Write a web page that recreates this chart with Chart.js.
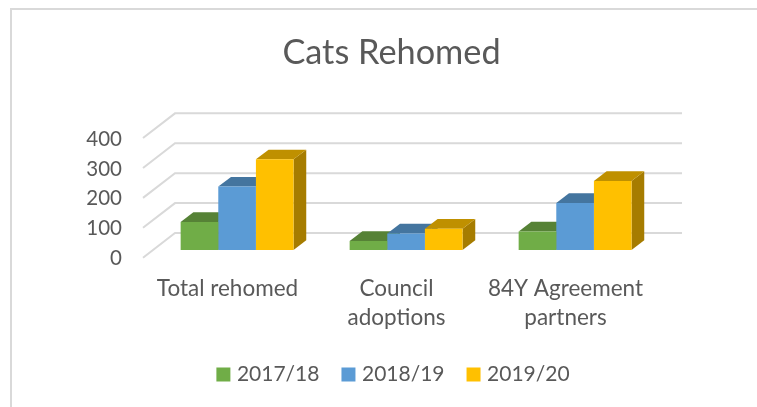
<!DOCTYPE html>
<html><head><meta charset="utf-8">
<style>html,body{margin:0;padding:0;background:#fff}canvas{display:block}</style>
<script src="https://cdn.jsdelivr.net/npm/chart.js@4/dist/chart.umd.min.js"></script>
</head><body>
<canvas id="c" width="757" height="407"></canvas>
<script>
const categories = [['Total rehomed'], ['Council', 'adoptions'], ['84Y Agreement', 'partners']];
const seriesNames = ['2017/18', '2018/19', '2019/20'];
const values1718 = [94, 30, 62];
const values1819 = [212, 55, 157];
const values1920 = [303, 71, 231];
const frontColors = ['#70AD47', '#5B9BD5', '#FFC000'];
const topColors = ['#568236', '#44759F', '#BF9000'];
const sideColors = ['#4A7030', '#3A6488', '#A67C00'];
const FONT = 'Lato, Carlito, sans-serif';
const TEXT = '#595959';
const GRID = '#D9D9D9';
// 3D projection offsets
const WALL = {dx: 32, dy: -24.7};
const BAR_START = {dx: 9.6, dy: -7.7};
const BAR_DEPTH = {dx: 12.7, dy: -9.7};

const threeD = {
  id: 'threeD',
  afterLayout(chart) {
    chart.legend.left += 3.5;
    chart.legend.right += 3.5;
  },
  beforeDraw(chart) {
    const {ctx, scales: {y}, chartArea: a} = chart;
    ctx.save();
    ctx.strokeStyle = GRID; ctx.lineWidth = 2;
    ctx.beginPath(); ctx.moveTo(11, 407); ctx.lineTo(11, 9); ctx.lineTo(757, 9); ctx.stroke();
    y.ticks.forEach(t => {
      const py = y.getPixelForValue(t.value);
      ctx.beginPath();
      ctx.moveTo(a.left, py);
      ctx.lineTo(a.left + WALL.dx, py + WALL.dy);
      ctx.lineTo(a.right + WALL.dx, py + WALL.dy);
      ctx.stroke();
    });
    ctx.restore();
  },
  beforeDatasetsDraw(chart) {
    const {ctx} = chart;
    ctx.save();
    ctx.translate(BAR_START.dx, BAR_START.dy);
    const dx = BAR_DEPTH.dx, dy = BAR_DEPTH.dy;
    chart.data.datasets.forEach((d, i) => {
      chart.getDatasetMeta(i).data.forEach(b => {
        const l = b.x - b.width / 2, r = b.x + b.width / 2, t = b.y, base = b.base;
        ctx.fillStyle = sideColors[i];
        ctx.beginPath();
        ctx.moveTo(r, t); ctx.lineTo(r + dx, t + dy); ctx.lineTo(r + dx, base + dy); ctx.lineTo(r, base);
        ctx.closePath(); ctx.fill();
        ctx.fillStyle = topColors[i];
        ctx.beginPath();
        ctx.moveTo(l, t); ctx.lineTo(l + dx, t + dy); ctx.lineTo(r + dx, t + dy); ctx.lineTo(r, t);
        ctx.closePath(); ctx.fill();
      });
    });
    ctx.restore();
  },
  beforeDatasetDraw(chart) {
    chart.ctx.save();
    chart.ctx.translate(BAR_START.dx, BAR_START.dy);
  },
  afterDatasetDraw(chart) { chart.ctx.restore(); }
};

const allValues = [values1718, values1819, values1920];
new Chart(document.getElementById('c'), {
  type: 'bar',
  data: {
    labels: categories,
    datasets: seriesNames.map((n, i) => ({
      label: n, data: allValues[i], backgroundColor: frontColors[i], borderWidth: 0,
      clip: false, categoryPercentage: 0.668, barPercentage: 1
    }))
  },
  options: {
    responsive: false, animation: false,
    layout: {padding: {left: 26, top: 32.6, right: 0, bottom: 12}},
    scales: {
      x: {
        grid: {display: false}, border: {display: false},
        ticks: {color: TEXT, font: {family: FONT, size: 22.5, lineHeight: 1.29}, maxRotation: 0, minRotation: 0, autoSkip: false, padding: 8.8},
        afterFit(s) { s.height = 80.3; }
      },
      y: {
        min: 0, max: 400,
        grid: {display: false}, border: {display: false},
        ticks: {stepSize: 100, color: TEXT, font: {family: FONT, size: 20.5}, padding: 13, labelOffset: 1},
        afterFit(s) { s.width = 117; }
      },
      y2: {
        position: 'right', grid: {display: false}, border: {display: false},
        ticks: {display: false},
        afterFit(s) { s.width = 107; }
      }
    },
    plugins: {
      title: {display: true, text: 'Cats Rehomed', color: TEXT, font: {family: FONT, size: 34.3, weight: 'normal'}, padding: {top: 0, bottom: 64.3}},
      legend: {
        position: 'bottom',
        labels: {
          color: TEXT, font: {family: FONT, size: 21}, boxWidth: 6, boxHeight: 6, padding: 26,
          generateLabels: chart => chart.data.datasets.map((d, i) => ({
            text: d.label, fillStyle: frontColors[i], strokeStyle: frontColors[i], lineWidth: 8,
            fontColor: TEXT, datasetIndex: i, hidden: false
          }))
        }
      },
      tooltip: {enabled: false}
    }
  },
  plugins: [threeD]
});
</script>
</body></html>
